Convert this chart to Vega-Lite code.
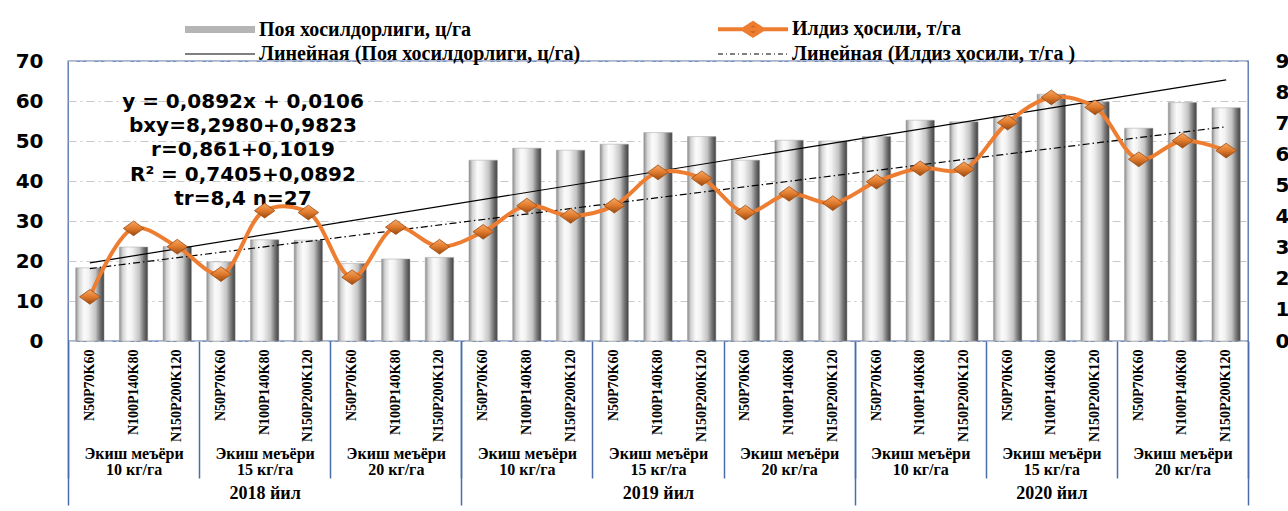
{
  "$schema": "https://vega.github.io/schema/vega-lite/v6.json",
  "width": 1180,
  "height": 280,
  "autosize": {"type": "none"},
  "padding": {"left": 68, "top": 61, "right": 40, "bottom": 170},
  "background": "white",
  "config": {
    "view": {"stroke": "#4a6cab", "strokeWidth": 1.3},
    "font": "DejaVu Sans",
    "axis": {"labelOverlap": false, "labelSeparation": 0},
    "axisY": {"labelOverlap": false},
    "axisQuantitative": {"labelOverlap": false}
  },
  "data": {"values": [
    {"idx": 1, "grp": "2018 10", "year": 2018, "stem": 18.3, "root": 1.42},
    {"idx": 2, "grp": "2018 10", "year": 2018, "stem": 23.5, "root": 3.62},
    {"idx": 3, "grp": "2018 10", "year": 2018, "stem": 23.6, "root": 3.03},
    {"idx": 4, "grp": "2018 15", "year": 2018, "stem": 19.8, "root": 2.15},
    {"idx": 5, "grp": "2018 15", "year": 2018, "stem": 25.3, "root": 4.19},
    {"idx": 6, "grp": "2018 15", "year": 2018, "stem": 25.2, "root": 4.13},
    {"idx": 7, "grp": "2018 20", "year": 2018, "stem": 19.4, "root": 2.05},
    {"idx": 8, "grp": "2018 20", "year": 2018, "stem": 20.5, "root": 3.66},
    {"idx": 9, "grp": "2018 20", "year": 2018, "stem": 20.9, "root": 3.03},
    {"idx": 10, "grp": "2019 10", "year": 2019, "stem": 45.2, "root": 3.51},
    {"idx": 11, "grp": "2019 10", "year": 2019, "stem": 48.2, "root": 4.35},
    {"idx": 12, "grp": "2019 10", "year": 2019, "stem": 47.7, "root": 4.02},
    {"idx": 13, "grp": "2019 15", "year": 2019, "stem": 49.2, "root": 4.35},
    {"idx": 14, "grp": "2019 15", "year": 2019, "stem": 52.1, "root": 5.42},
    {"idx": 15, "grp": "2019 15", "year": 2019, "stem": 51.1, "root": 5.23},
    {"idx": 16, "grp": "2019 20", "year": 2019, "stem": 45.2, "root": 4.13},
    {"idx": 17, "grp": "2019 20", "year": 2019, "stem": 50.2, "root": 4.73},
    {"idx": 18, "grp": "2019 20", "year": 2019, "stem": 50.0, "root": 4.43},
    {"idx": 19, "grp": "2020 10", "year": 2020, "stem": 51.1, "root": 5.12},
    {"idx": 20, "grp": "2020 10", "year": 2020, "stem": 55.2, "root": 5.55},
    {"idx": 21, "grp": "2020 10", "year": 2020, "stem": 54.8, "root": 5.52},
    {"idx": 22, "grp": "2020 15", "year": 2020, "stem": 56.1, "root": 7.02},
    {"idx": 23, "grp": "2020 15", "year": 2020, "stem": 61.7, "root": 7.83},
    {"idx": 24, "grp": "2020 15", "year": 2020, "stem": 59.8, "root": 7.51},
    {"idx": 25, "grp": "2020 20", "year": 2020, "stem": 53.2, "root": 5.84},
    {"idx": 26, "grp": "2020 20", "year": 2020, "stem": 59.6, "root": 6.44},
    {"idx": 27, "grp": "2020 20", "year": 2020, "stem": 58.3, "root": 6.12}
  ]},
  "layer": [
    {
      "layer": [
        {
          "layer": [
            {
              "mark": {
                "type": "bar",
                "fill": {"gradient": "linear", "x1": 0, "y1": 0, "x2": 1, "y2": 0, "stops": [
                  {"offset": 0, "color": "#8a8a8a"},
                  {"offset": 0.12, "color": "#d4d4d4"},
                  {"offset": 0.3, "color": "#fbfbfb"},
                  {"offset": 0.45, "color": "#f2f2f2"},
                  {"offset": 0.7, "color": "#c4c4c4"},
                  {"offset": 0.85, "color": "#7a7a7a"},
                  {"offset": 1, "color": "#3f3f3f"}
                ]},
                "stroke": "#a0a0a0",
                "strokeWidth": 0.5
              },
              "encoding": {
                "x": {
                  "field": "idx", "type": "ordinal",
                  "scale": {"paddingInner": 0.35, "paddingOuter": 0.175},
                  "axis": {
                    "orient": "bottom", "title": null, "domain": false, "ticks": false, "grid": false,
                    "labelAngle": -90, "labelAlign": "right", "labelBaseline": "middle", "labelPadding": 8,
                    "labelFont": "Liberation Serif", "labelFontWeight": "bold", "labelFontSize": 14, "labelColor": "black",
                    "labelOverlap": false,
                    "labelExpr": "['N50P70K60','N100P140K80','N150P200K120'][(datum.value - 1) % 3]"
                  }
                },
                "y": {
                  "field": "stem", "type": "quantitative",
                  "scale": {"domain": [0, 70]},
                  "axis": {
                    "title": null, "domain": false, "ticks": false, "labelOverlap": false, "labelBound": false,
                    "values": [0, 10, 20, 30, 40, 50, 60, 70], "tickCount": 8,
                    "labelFont": "DejaVu Sans", "labelFontWeight": "bold", "labelFontSize": 20,
                    "labelPadding": 25, "labelColor": "black",
                    "grid": true, "gridColor": "#c8c8c8", "gridDash": [8, 4, 2, 4], "gridWidth": 1
                  }
                }
              }
            },
            {
              "transform": [{"regression": "stem", "on": "idx"}],
              "mark": {"type": "line", "strokeWidth": 1.2},
              "encoding": {
                "x": {"field": "idx", "type": "ordinal"},
                "y": {"field": "stem", "type": "quantitative"},
                "color": {"datum": "Линейная (Поя хосилдорлиги, ц/га)"}
              }
            },
            {
              "data": {"values": [{"idx": 4, "v": 62.3, "t": "y = 0,0892x + 0,0106\nbxy=8,2980+0,9823\nr=0,861+0,1019\nR² = 0,7405+0,0892\ntr=8,4 n=27"}]},
              "mark": {"type": "text", "font": "DejaVu Sans", "fontWeight": "bold", "fontSize": 20, "align": "center", "baseline": "top", "lineHeight": 24.3, "lineBreak": "\n", "dx": 22, "color": "black"},
              "encoding": {
                "x": {"field": "idx", "type": "ordinal"},
                "y": {"field": "v", "type": "quantitative"},
                "text": {"field": "t"}
              }
            }
          ]
        },
        {
          "layer": [
            {
              "transform": [{"regression": "root", "on": "idx"}],
              "mark": {"type": "line", "strokeWidth": 1.2, "strokeDash": [7, 3, 1.5, 3]},
              "encoding": {
                "x": {"field": "idx", "type": "ordinal"},
                "y": {
                  "field": "root", "type": "quantitative",
                  "scale": {"domain": [0, 9]},
                  "axis": {
                    "orient": "right", "title": null, "domain": false, "ticks": false, "grid": false,
                    "labelOverlap": false, "labelBound": false,
                    "values": [0, 1, 2, 3, 4, 5, 6, 7, 8, 9], "tickCount": 10,
                    "labelFont": "DejaVu Sans", "labelFontWeight": "bold", "labelFontSize": 20,
                    "labelPadding": 27, "labelColor": "black"
                  }
                },
                "color": {"datum": "Линейная (Илдиз  ҳосили, т/га )"}
              }
            },
            {
              "mark": {"type": "line", "interpolate": "catmull-rom", "strokeWidth": 4},
              "encoding": {
                "x": {"field": "idx", "type": "ordinal"},
                "y": {"field": "root", "type": "quantitative"},
                "color": {
                  "datum": "Илдиз  ҳосили, т/га",
                  "scale": {
                    "domain": ["Поя хосилдорлиги, ц/га", "Илдиз  ҳосили, т/га", "Линейная (Поя хосилдорлиги, ц/га)", "Линейная (Илдиз  ҳосили, т/га )"],
                    "range": ["#b5b5b5", "#ed7d31", "#000000", "#000000"]
                  },
                  "legend": {
                    "orient": "none", "legendX": 142, "legendY": -42, "columns": 2, "direction": "horizontal", "title": null,
                    "labelFont": "Liberation Serif", "labelFontWeight": "bold", "labelFontSize": 20, "labelColor": "black",
                    "symbolSize": 196, "symbolType": "M-5,0H5", "labelOffset": 29, "columnPadding": 129, "rowPadding": 0,
                    "labelLimit": 600,
                    "encode": {
                      "symbols": {
                        "update": {
                          "shape": {"signal": "datum.index === 1 ? 'M-5,0H5M-1.4,0L0,-0.9L1.4,0L0,0.9Z' : 'M-5,0H5'"},
                          "strokeWidth": {"signal": "datum.index === 0 ? 7 : datum.index === 1 ? 4 : 1.2"},
                          "stroke": {"signal": "datum.index === 0 ? '#bdbdbd' : datum.index === 1 ? '#ed7d31' : '#000000'"},
                          "fill": {"signal": "datum.index === 1 ? '#c9651f' : 'transparent'"},
                          "strokeDash": {"signal": "datum.index === 3 ? [5, 3, 1, 3] : [1, 0]"},
                          "opacity": {"value": 1}
                        }
                      }
                    }
                  }
                }
              }
            },
            {
              "mark": {
                "type": "point", "shape": "M-1,0L0,-0.72L1,0L0,0.72Z", "size": 420, "filled": true, "opacity": 1,
                "fill": {"gradient": "linear", "x1": 0, "y1": 0, "x2": 0, "y2": 1, "stops": [
                  {"offset": 0, "color": "#f6a862"},
                  {"offset": 0.5, "color": "#e07a2c"},
                  {"offset": 1, "color": "#9a4a12"}
                ]},
                "stroke": "#9c4d15", "strokeWidth": 0.8
              },
              "encoding": {
                "x": {"field": "idx", "type": "ordinal"},
                "y": {"field": "root", "type": "quantitative"}
              }
            }
          ]
        }
      ],
      "resolve": {"scale": {"y": "independent"}}
    },
    {
      "mark": {"type": "point", "opacity": 0},
      "encoding": {
        "x": {
          "field": "grp", "type": "ordinal",
          "scale": {"type": "band", "paddingInner": 0, "paddingOuter": 0},
          "axis": {
            "orient": "bottom", "title": null, "domain": false, "grid": false,
            "ticks": true, "tickBand": "extent", "tickSize": 137, "tickColor": "#4a6cab", "tickWidth": 1.5,
            "labelAngle": 0, "labelPadding": -33, "labelBaseline": "top", "labelLineHeight": 16,
            "labelFont": "Liberation Serif", "labelFontWeight": "bold", "labelFontSize": 16, "labelColor": "black",
            "labelOverlap": false, "labelLimit": 0,
            "labelExpr": "isValid(datum.value) ? ['Экиш меъёри', split(datum.value, ' ')[1] + ' кг/га'] : ''"
          }
        }
      }
    },
    {
      "mark": {"type": "point", "opacity": 0},
      "encoding": {
        "x": {
          "field": "year", "type": "ordinal",
          "scale": {"type": "band", "paddingInner": 0, "paddingOuter": 0},
          "axis": {
            "orient": "bottom", "title": null, "domain": false, "grid": false,
            "ticks": true, "tickBand": "extent", "tickSize": 164, "tickColor": "#4a6cab", "tickWidth": 1.5,
            "labelAngle": 0, "labelPadding": -21, "labelBaseline": "top",
            "labelFont": "Liberation Serif", "labelFontWeight": "bold", "labelFontSize": 18, "labelColor": "black",
            "labelOverlap": false,
            "labelExpr": "isValid(datum.value) ? datum.label + ' йил' : ''"
          }
        }
      }
    }
  ],
  "resolve": {"scale": {"x": "independent"}}
}
